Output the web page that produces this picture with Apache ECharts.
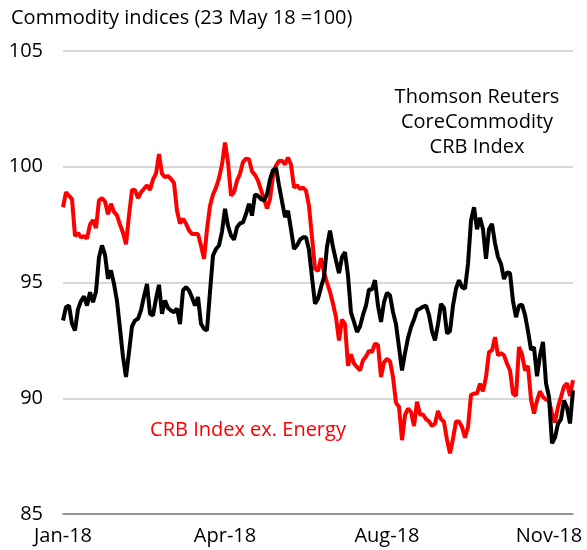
<!DOCTYPE html>
<html>
<head>
<meta charset="utf-8">
<script src="https://cdn.jsdelivr.net/npm/echarts@6/dist/echarts.min.js"></script>
<style>
    html, body { margin: 0; padding: 0; background: #fff; }
    #chart { width: 587px; height: 550px; }
</style>
</head>
<body>
<div id="chart"></div>
<script>
// values, one point every ~3px of the original
var coreCrb = [
    93.36, 93.94, 94.0, 93.22, 92.93, 93.85, 94.2, 94.4, 94.0, 94.58,
    94.15, 94.6, 96.09, 96.6, 96.2, 95.16, 95.52, 94.94, 94.2, 93.0,
    91.78, 90.92, 92.0, 93.1, 93.36, 93.43, 93.8, 94.4, 94.94, 93.65,
    93.58, 94.3, 94.9, 93.65, 94.22, 93.9, 93.79, 93.72, 93.87, 93.2,
    94.66, 94.8, 94.66, 94.35, 94.0, 94.37, 93.22, 93.0, 92.93, 94.6,
    96.16, 96.45, 96.6, 97.2, 98.18, 97.45, 97.03, 96.85, 97.39, 97.55,
    97.6, 97.96, 98.4, 97.89, 98.8, 98.75, 98.6, 98.55, 98.8, 99.45,
    99.85, 99.95, 99.2, 98.5, 97.82, 98.1, 97.3, 96.45, 96.6, 96.85,
    96.95, 96.95, 96.4, 95.23, 94.08, 94.3, 94.8, 95.23, 96.55, 97.24,
    96.52, 95.95, 95.4, 96.1, 96.31, 95.3, 93.7, 93.3, 92.86, 93.1,
    93.6, 94.0, 94.7, 94.7, 95.1, 94.0, 93.3, 94.15, 94.55, 94.45,
    93.72, 93.2, 92.2, 91.2, 91.95, 92.6, 93.07, 93.4, 93.8, 93.87,
    93.95, 94.0, 93.6, 92.9, 92.5, 93.2, 94.08, 93.9, 92.8, 92.9,
    94.0, 94.73, 95.1, 94.8, 94.73, 95.8, 97.67, 98.25, 97.3, 97.8,
    97.3, 96.02, 97.3, 97.53, 96.7, 96.1, 95.8, 95.15, 95.44, 95.4,
    94.2, 93.5, 94.0, 94.05, 93.6, 92.9, 92.1, 92.2, 90.95, 91.85,
    92.43, 90.65, 90.06, 88.05, 88.3, 88.9, 89.1, 89.9, 89.6, 88.91,
    90.34
];
var crbExEnergy = [
    98.25, 98.9, 98.75, 98.6, 97.0, 97.15, 96.95, 97.0, 96.9, 97.5,
    97.7, 97.35, 98.55, 98.65, 98.5, 97.95, 98.4, 98.05, 97.9, 97.5,
    97.15, 96.65, 97.9, 99.0, 99.0, 98.65, 98.9, 99.05, 99.2, 99.0,
    99.45, 99.7, 100.55, 99.7, 99.55, 99.6, 99.47, 99.3, 98.1, 97.55,
    97.75, 97.55, 97.25, 97.1, 97.1, 97.1, 96.6, 96.02, 97.3, 98.3,
    98.8, 99.1, 99.5, 100.1, 101.05, 100.2, 98.75, 98.9, 99.4, 99.7,
    100.2, 100.35, 100.33, 99.8, 99.65, 99.4, 99.0, 98.6, 98.2, 98.6,
    99.6, 100.05, 100.25, 100.26, 100.1, 100.4, 100.1, 99.1, 99.2, 99.04,
    99.1, 98.97, 98.3, 96.95, 95.6, 95.5, 96.05, 95.44, 95.0, 94.6,
    94.08, 93.5, 92.5, 93.4, 93.2, 91.4, 91.9, 91.5, 91.35, 91.2,
    91.64, 91.8, 92.05, 92.0, 92.36, 92.3, 90.92, 91.55, 91.7, 91.6,
    90.92, 89.8, 89.63, 88.19, 89.27, 89.55, 89.41, 88.8, 89.85, 89.3,
    89.3, 89.1, 89.0, 88.8, 88.9, 89.45, 89.1, 88.98, 88.2, 87.62,
    88.25, 89.0, 89.0, 88.76, 88.3, 88.76, 90.15, 90.2, 90.2, 90.63,
    90.3, 90.92, 92.0, 92.07, 92.64, 91.85, 91.95, 91.85, 91.5, 91.2,
    90.2, 90.1, 92.21, 91.9, 91.2, 91.4, 89.95, 89.34, 89.9, 90.3,
    90.06, 89.95, 89.9, 89.35, 88.95, 89.63, 90.06, 90.5, 90.65, 90.1,
    90.78
];
var xTickIdx = [0, 54, 108, 162];
var xTickLabels = ['Jan-18', 'Apr-18', 'Aug-18', 'Nov-18'];
var yTicks = [85, 90, 95, 100, 105];

var categories = [];
for (var i = 0; i < coreCrb.length; i++) {
    categories.push(i);
}

var font = '"Open Sans", Lato, sans-serif';
var myChart = echarts.init(document.getElementById('chart'), null, {renderer: 'canvas'});
var option = {
    animation: false,
    backgroundColor: '#fff',
    grid: {left: 63, right: 14, top: 51, bottom: 36, containLabel: false},
    xAxis: {
        type: 'category',
        data: categories,
        boundaryGap: false,
        axisLine: {show: true, lineStyle: {color: '#808080', width: 1.5}},
        axisTick: {show: false},
        axisLabel: {
            margin: 12,
            color: '#000',
            fontFamily: font,
            fontSize: 20,
            interval: function (idx) {
                return xTickIdx.indexOf(idx) >= 0;
            },
            formatter: function (val, idx) {
                var p = xTickIdx.indexOf(idx);
                return p >= 0 ? xTickLabels[p] : '';
            }
        },
        splitLine: {show: false}
    },
    yAxis: {
        type: 'value',
        min: yTicks[0],
        max: yTicks[yTicks.length - 1],
        interval: 5,
        axisLine: {show: false},
        axisTick: {show: false},
        axisLabel: {margin: 20, color: '#000', fontFamily: font, fontSize: 20},
        splitLine: {lineStyle: {color: '#c8ccd0', width: 1.5}}
    },
    graphic: [
        {type: 'text', left: 11, top: 8,
            style: {text: 'Commodity indices (23 May 18 =100)', fill: '#000', font: '20px ' + font}},
        {type: 'text', x: 477, y: 85,
            style: {text: 'Thomson Reuters\nCoreCommodity\nCRB Index', fill: '#000',
                font: '20px ' + font, align: 'center', lineHeight: 25}},
        {type: 'text', x: 248, y: 420,
            style: {text: 'CRB Index ex. Energy', fill: '#ff0000', font: '20px ' + font, align: 'center'}}
    ],
    series: [
        {
            name: 'CRB Index ex. Energy',
            type: 'line',
            data: crbExEnergy,
            showSymbol: false,
            lineStyle: {color: '#ff0000', width: 4},
            itemStyle: {color: '#ff0000'}
        },
        {
            name: 'Thomson Reuters CoreCommodity CRB Index',
            type: 'line',
            data: coreCrb,
            showSymbol: false,
            lineStyle: {color: '#000000', width: 4},
            itemStyle: {color: '#000000'}
        }
    ]
};
myChart.setOption(option);
</script>
</body>
</html>
